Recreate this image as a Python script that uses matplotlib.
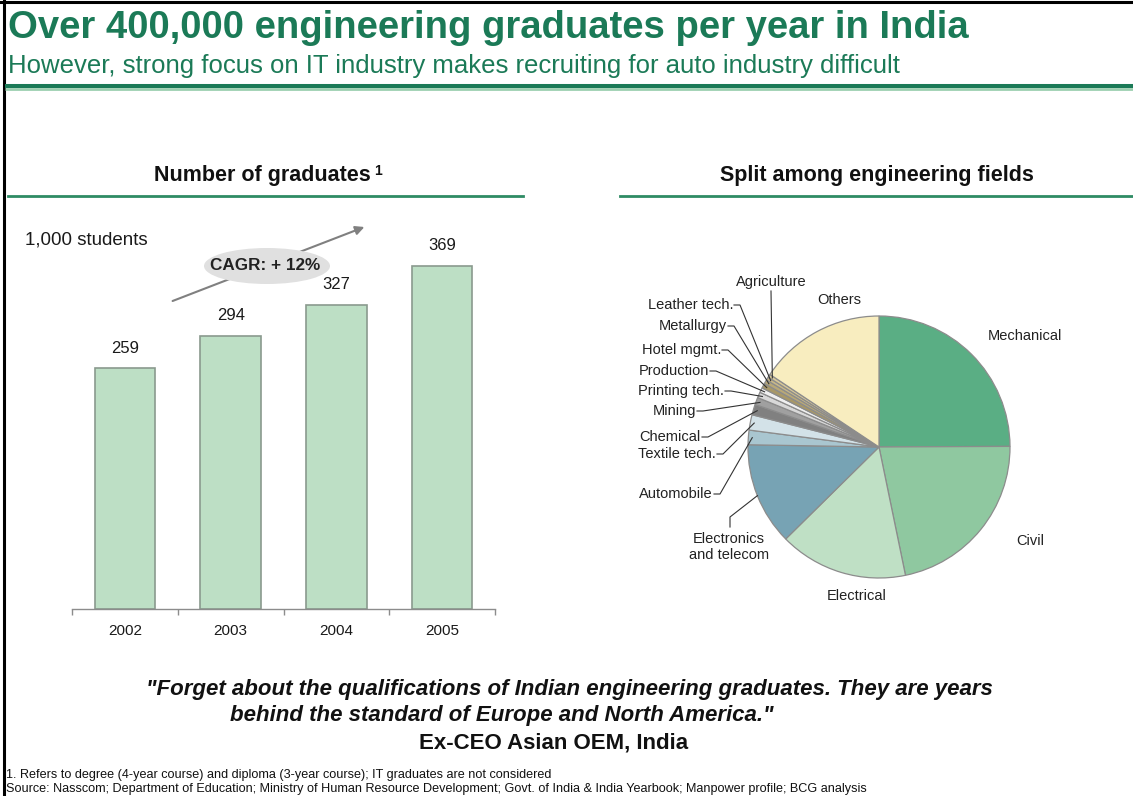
import matplotlib.pyplot as plt
from matplotlib.patches import Ellipse
import numpy as np

W, H = 1133, 796

# graduates per year, in 1,000 students
years = ['2002', '2003', '2004', '2005']
graduates = [259, 294, 327, 369]
cagr_pct = 12

# share of graduates per engineering field, in %
fields = ['Mechanical', 'Civil', 'Electrical', 'Electronics\nand telecom', 'Automobile',
          'Textile tech.', 'Chemical', 'Mining', 'Printing tech.', 'Production',
          'Hotel mgmt.', 'Metallurgy', 'Leather tech.', 'Agriculture', 'Others']
shares = [25.0, 21.9, 15.9, 12.7, 1.8, 1.9, 1.3, 0.9, 0.7, 0.6, 0.6, 0.5, 0.4, 0.4, 15.7]
field_colors = ['#5aae84', '#8fc8a0', '#bfe0c5', '#77a3b4', '#a9c6d0',
                '#d3e2e8', '#808080', '#a0a0a0', '#d8d8d8', '#f0f0f0',
                '#a89868', '#b8a878', '#c8b888', '#d8c898', '#f8edbf']

GREEN = '#1b7a57'
plt.rcParams['font.family'] = ['Liberation Sans', 'DejaVu Sans']


def Y(y):
    # page coordinates are measured from the top
    return H - y


fig = plt.figure(figsize=(W / 100, H / 100), dpi=100)

# ---- bar chart ----
base_y, px_per_unit = 609, 0.93
ax = fig.add_axes([72 / W, (H - base_y) / H, 423 / W, 400 / H])
x = np.arange(len(years))
ax.bar(x, graduates, width=0.57, color='#bddfc5', edgecolor='#8a9a8e', linewidth=1.2, zorder=2)
for xi, v in zip(x, graduates):
    ax.annotate(str(v), (xi, v), xytext=(0, 9), textcoords='offset points',
                ha='center', va='bottom', fontsize=12, color='#1a1a1a')
ax.set_xlim(-0.5, len(years) - 0.5)
ax.set_ylim(0, 400 / px_per_unit)
ax.set_xticks(x)
ax.set_xticklabels(years, fontsize=11, color='#1a1a1a')
ax.set_xticks(np.arange(-0.5, len(years)), minor=True)
ax.tick_params(axis='x', which='major', length=0, pad=11)
ax.tick_params(axis='x', which='minor', length=4.5, color='#8c8c8c', width=1)
ax.set_yticks([])
for s in ['top', 'right', 'left']:
    ax.spines[s].set_visible(False)
ax.spines['bottom'].set_color('#8c8c8c')
ax.spines['bottom'].set_linewidth(1)
ax.patch.set_visible(False)

# ---- overlay in page pixels ----
ov = fig.add_axes([0, 0, 1, 1])
ov.patch.set_visible(False)

# pie
cx, cy, r = 879, 447, 131
wedges, _ = ov.pie(shares, colors=field_colors, startangle=90, counterclock=False,
                   center=(cx, Y(cy)), radius=r,
                   wedgeprops=dict(edgecolor='#8c8c8c', linewidth=0.9))
ov.set_xlim(0, W)
ov.set_ylim(0, H)
ov.set_aspect('auto')
ov.axis('off')


def wedge_point(name, frac=0.97):
    w = wedges[fields.index(name)]
    a = np.deg2rad((w.theta1 + w.theta2) / 2)
    return cx + frac * r * np.cos(a), Y(cy) + frac * r * np.sin(a)


lab_kw = dict(fontsize=10.5, color='#222222')
ov.text(1025, Y(336), 'Mechanical', ha='center', va='center', **lab_kw)
ov.text(1030, Y(541), 'Civil', ha='center', va='center', **lab_kw)
ov.text(857, Y(596), 'Electrical', ha='center', va='center', **lab_kw)
ov.text(839, Y(300), 'Others', ha='center', va='center', **lab_kw)
ov.text(729, Y(547), 'Electronics\nand telecom', ha='center', va='center',
        linespacing=1.25, **lab_kw)
ex, ey = wedge_point('Electronics\nand telecom', 1.0)
ov.plot([730, 730, ex], [Y(527), Y(517), ey], color='#333333', lw=0.8)

ov.text(771, Y(282), 'Agriculture', ha='center', va='center', **lab_kw)
ax_, ay_ = wedge_point('Agriculture')
ov.plot([771, ax_], [Y(291), ay_], color='#333333', lw=0.8)

left_labels = [('Leather tech.', 733, 305), ('Metallurgy', 727, 326),
               ('Hotel mgmt.', 721, 350), ('Production', 709, 371),
               ('Printing tech.', 724, 391), ('Mining', 696, 411),
               ('Chemical', 701, 437), ('Textile tech.', 716, 454),
               ('Automobile', 713, 494)]
for name, xe, yl in left_labels:
    ov.text(xe, Y(yl), name, ha='right', va='center', **lab_kw)
    px, py = wedge_point(name)
    ov.plot([xe + 1, xe + 7, px], [Y(yl), Y(yl), py], color='#333333', lw=0.8)

# frame and header rules
ov.plot([4, 4], [0, H], color='black', lw=2.2)
ov.plot([0, W], [Y(1.5), Y(1.5)], color='black', lw=2.2)
ov.plot([5, W], [Y(85.5), Y(85.5)], color=GREEN, lw=2.9, solid_capstyle='butt')
ov.plot([5, W], [Y(89), Y(89)], color='#9ccfb0', lw=2.0, solid_capstyle='butt')

ov.text(8, Y(28), 'Over 400,000 engineering graduates per year in India',
        fontsize=27.5, fontweight='bold', color=GREEN, va='center')
ov.text(8, Y(66), 'However, strong focus on IT industry makes recruiting for auto industry difficult',
        fontsize=18.5, color=GREEN, va='center')

# section headers
ov.text(262, Y(176), 'Number of graduates', fontsize=15.5, fontweight='bold',
        ha='center', va='center', color='#111111')
ov.text(374, Y(171), '1', fontsize=10, fontweight='bold', ha='left', va='center', color='#111111')
ov.plot([8, 523], [Y(196), Y(196)], color='#2e8b64', lw=2)
ov.text(877, Y(176), 'Split among engineering fields', fontsize=15.5, fontweight='bold',
        ha='center', va='center', color='#111111')
ov.plot([620, W], [Y(196), Y(196)], color='#2e8b64', lw=2)

ov.text(25, Y(240), '1,000 students', fontsize=13.5, va='center', color='#1a1a1a')

# growth arrow with CAGR badge
ov.annotate('', xy=(367, Y(226)), xytext=(170, Y(302)),
            arrowprops=dict(arrowstyle='-|>', color='#808080', lw=1.5, mutation_scale=13))
ov.add_patch(Ellipse((267, Y(266)), 126, 36, facecolor='#e0e0e0', edgecolor='none', zorder=3))
ov.text(265, Y(266), f'CAGR: + {cagr_pct}%', fontsize=12.3, fontweight='bold',
        ha='center', va='center', color='#222222', zorder=4)

# quote
q_kw = dict(fontsize=16, fontweight='bold', color='#111111')
ov.text(569, Y(689), '"Forget about the qualifications of Indian engineering graduates. They are years',
        ha='center', va='center', style='italic', **q_kw)
ov.text(230, Y(716), 'behind the standard of Europe and North America."',
        ha='left', va='center', style='italic', **q_kw)
ov.text(554, Y(743), 'Ex-CEO Asian OEM, India', ha='center', va='center', **q_kw)

# footnotes
ov.text(6, Y(775), '1. Refers to degree (4-year course) and diploma (3-year course); IT graduates are not considered',
        fontsize=9.1, va='center', color='#111111')
ov.text(6, Y(789), 'Source: Nasscom; Department of Education; Ministry of Human Resource Development; '
        'Govt. of India & India Yearbook; Manpower profile; BCG analysis',
        fontsize=9.1, va='center', color='#111111')

fig.savefig('out.png', dpi=100)
